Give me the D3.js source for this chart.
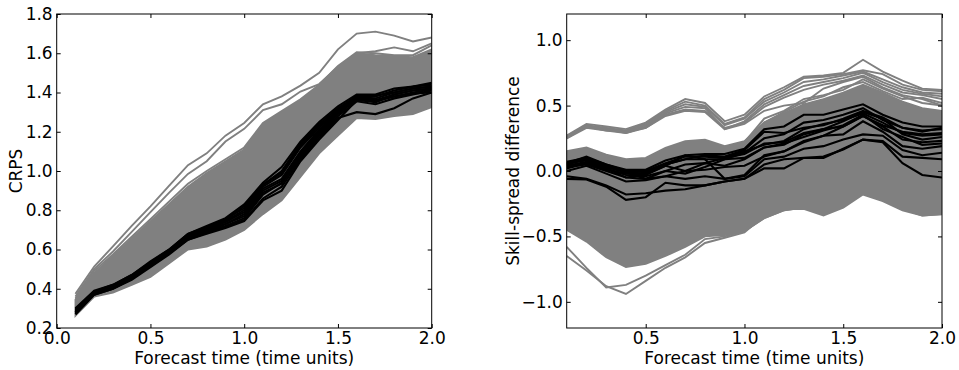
<!DOCTYPE html>
<html>
<head>
<meta charset="utf-8">
<script src="https://cdn.jsdelivr.net/npm/d3@7"></script>
<style>
  body { margin: 0; background: #fff; }
  text { font-family: "DejaVu Sans", sans-serif; }
</style>
</head>
<body>
<svg width="959" height="370"></svg>
<script>
// forecast lead times shared by both panels
const times = [0.1, 0.2, 0.3, 0.4, 0.5, 0.6, 0.7, 0.8, 0.9, 1.0, 1.1, 1.2, 1.3, 1.4, 1.5, 1.6, 1.7, 1.8, 1.9, 2.0];

// left panel: CRPS
const crpsXTicks = [0.0, 0.5, 1.0, 1.5, 2.0];
const crpsYTicks = [0.2, 0.4, 0.6, 0.8, 1.0, 1.2, 1.4, 1.6, 1.8];
// envelope of the dense bundle of grey runs
const crpsBandUpper = [0.345, 0.48, 0.567, 0.655, 0.744, 0.832, 0.92, 0.99, 1.05, 1.11, 1.24, 1.30, 1.36, 1.435, 1.53, 1.60, 1.59, 1.585, 1.58, 1.62];
const crpsBandLower = [0.262, 0.36, 0.38, 0.42, 0.46, 0.53, 0.60, 0.615, 0.65, 0.70, 0.78, 0.85, 0.97, 1.09, 1.18, 1.27, 1.265, 1.28, 1.29, 1.325];
const crpsGrayLines = [
  [0.374, 0.513, 0.616, 0.72, 0.82, 0.925, 1.03, 1.09, 1.18, 1.245, 1.34, 1.38, 1.435, 1.50, 1.62, 1.70, 1.71, 1.69, 1.66, 1.68],
  [0.36, 0.50, 0.59, 0.69, 0.79, 0.89, 0.985, 1.05, 1.15, 1.215, 1.31, 1.34, 1.405, 1.443, 1.53, 1.60, 1.61, 1.63, 1.61, 1.65],
  [0.35, 0.49, 0.575, 0.665, 0.755, 0.845, 0.935, 1.0, 1.06, 1.12, 1.245, 1.305, 1.365, 1.44, 1.535, 1.605, 1.60, 1.59, 1.59, 1.64]
];
const crpsBlackLines = [
  [0.30, 0.39, 0.42, 0.47, 0.54, 0.60, 0.68, 0.72, 0.76, 0.83, 0.94, 1.02, 1.15, 1.25, 1.33, 1.39, 1.39, 1.42, 1.43, 1.45],
  [0.29, 0.385, 0.415, 0.465, 0.53, 0.595, 0.675, 0.71, 0.75, 0.82, 0.93, 1.00, 1.14, 1.24, 1.32, 1.38, 1.38, 1.41, 1.43, 1.44],
  [0.28, 0.38, 0.41, 0.46, 0.525, 0.59, 0.665, 0.705, 0.745, 0.80, 0.92, 0.98, 1.12, 1.22, 1.31, 1.375, 1.37, 1.40, 1.42, 1.43],
  [0.275, 0.375, 0.405, 0.455, 0.52, 0.585, 0.66, 0.70, 0.74, 0.79, 0.91, 0.96, 1.10, 1.21, 1.30, 1.37, 1.36, 1.39, 1.41, 1.42],
  [0.27, 0.37, 0.40, 0.45, 0.515, 0.58, 0.655, 0.69, 0.73, 0.78, 0.90, 0.95, 1.08, 1.19, 1.29, 1.365, 1.36, 1.38, 1.40, 1.415],
  [0.285, 0.38, 0.41, 0.46, 0.52, 0.59, 0.66, 0.69, 0.72, 0.76, 0.88, 0.94, 1.09, 1.20, 1.30, 1.37, 1.35, 1.39, 1.41, 1.42],
  [0.28, 0.375, 0.405, 0.45, 0.515, 0.58, 0.65, 0.685, 0.715, 0.75, 0.86, 0.92, 1.06, 1.17, 1.27, 1.30, 1.29, 1.32, 1.37, 1.40],
  [0.295, 0.385, 0.42, 0.47, 0.535, 0.60, 0.68, 0.715, 0.755, 0.81, 0.93, 0.99, 1.13, 1.23, 1.31, 1.385, 1.385, 1.40, 1.42, 1.43],
  [0.27, 0.37, 0.40, 0.445, 0.51, 0.575, 0.65, 0.68, 0.71, 0.745, 0.85, 0.90, 1.05, 1.16, 1.26, 1.36, 1.355, 1.38, 1.395, 1.40],
  [0.28, 0.38, 0.41, 0.46, 0.53, 0.59, 0.67, 0.70, 0.73, 0.77, 0.89, 0.935, 1.07, 1.18, 1.28, 1.355, 1.34, 1.37, 1.39, 1.41]
];

// right panel: skill-spread difference
const ssXTicks = [0.5, 1.0, 1.5, 2.0];
const ssYTicks = [-1.0, -0.5, 0.0, 0.5, 1.0];
const ssBandUpper = [0.152, 0.18, 0.125, 0.09, 0.10, 0.178, 0.228, 0.24, 0.19, 0.228, 0.37, 0.44, 0.51, 0.55, 0.60, 0.66, 0.60, 0.53, 0.48, 0.46];
const ssBandLower = [-0.45, -0.54, -0.66, -0.735, -0.71, -0.65, -0.58, -0.50, -0.49, -0.46, -0.36, -0.30, -0.28, -0.33, -0.27, -0.17, -0.22, -0.29, -0.34, -0.33];
const ssGrayLines = [
  [0.27, 0.36, 0.34, 0.32, 0.37, 0.47, 0.55, 0.52, 0.38, 0.43, 0.57, 0.64, 0.72, 0.73, 0.75, 0.85, 0.76, 0.69, 0.63, 0.62],
  [0.26, 0.35, 0.33, 0.31, 0.36, 0.46, 0.53, 0.50, 0.36, 0.41, 0.55, 0.62, 0.71, 0.72, 0.74, 0.77, 0.74, 0.66, 0.62, 0.61],
  [0.255, 0.345, 0.325, 0.30, 0.35, 0.45, 0.51, 0.49, 0.35, 0.40, 0.53, 0.60, 0.68, 0.70, 0.73, 0.76, 0.70, 0.64, 0.60, 0.59],
  [0.25, 0.34, 0.32, 0.29, 0.34, 0.44, 0.49, 0.48, 0.32, 0.38, 0.51, 0.58, 0.65, 0.68, 0.71, 0.75, 0.68, 0.62, 0.59, 0.57],
  [0.26, 0.34, 0.31, 0.30, 0.33, 0.43, 0.47, 0.46, 0.33, 0.37, 0.49, 0.56, 0.62, 0.66, 0.69, 0.73, 0.66, 0.60, 0.58, 0.55],
  [0.25, 0.33, 0.31, 0.29, 0.33, 0.42, 0.46, 0.45, 0.32, 0.36, 0.46, 0.50, 0.52, 0.63, 0.68, 0.72, 0.64, 0.58, 0.55, 0.50],
  [0.14, 0.17, 0.11, 0.08, 0.09, 0.17, 0.22, 0.23, 0.18, 0.22, 0.40, 0.46, 0.55, 0.58, 0.62, 0.70, 0.63, 0.57, 0.52, 0.50],
  [0.13, 0.16, 0.10, 0.07, 0.08, 0.16, 0.21, 0.22, 0.17, 0.21, 0.37, 0.45, 0.53, 0.57, 0.64, 0.68, 0.61, 0.55, 0.56, 0.52],
  [-0.58, -0.74, -0.89, -0.87, -0.80, -0.72, -0.64, -0.52, -0.50, -0.46, -0.36, -0.30, -0.28, -0.33, -0.27, -0.17, -0.22, -0.29, -0.33, -0.32],
  [-0.65, -0.76, -0.88, -0.94, -0.84, -0.74, -0.66, -0.55, -0.51, -0.47, -0.34, -0.29, -0.29, -0.34, -0.28, -0.18, -0.23, -0.30, -0.34, -0.33]
];
const ssBlackLines = [
  [0.06, 0.11, 0.05, 0.01, 0.01, 0.08, 0.12, 0.13, 0.13, 0.17, 0.32, 0.34, 0.43, 0.43, 0.47, 0.51, 0.43, 0.37, 0.34, 0.34],
  [0.05, 0.09, 0.03, -0.01, -0.02, 0.05, 0.09, 0.09, 0.09, 0.14, 0.25, 0.28, 0.37, 0.39, 0.43, 0.48, 0.39, 0.33, 0.31, 0.32],
  [0.07, 0.10, 0.04, 0.0, 0.0, 0.06, 0.11, 0.11, 0.10, 0.15, 0.20, 0.23, 0.32, 0.36, 0.39, 0.44, 0.37, 0.29, 0.27, 0.28],
  [0.04, 0.06, 0.02, -0.05, -0.06, 0.0, 0.05, 0.06, 0.04, 0.09, 0.18, 0.20, 0.28, 0.32, 0.34, 0.42, 0.34, 0.24, 0.22, 0.23],
  [0.03, 0.05, 0.0, -0.05, -0.03, 0.04, 0.0, 0.01, 0.03, 0.04, 0.11, 0.15, 0.23, 0.27, 0.28, 0.38, 0.30, 0.19, 0.17, 0.19],
  [0.0, 0.04, -0.02, -0.08, -0.07, -0.04, -0.06, -0.04, -0.06, -0.04, 0.09, 0.11, 0.17, 0.19, 0.24, 0.28, 0.27, 0.16, 0.12, 0.14],
  [-0.04, -0.06, -0.11, -0.18, -0.17, -0.15, -0.14, -0.11, -0.08, -0.06, 0.05, 0.09, 0.10, 0.10, 0.17, 0.24, 0.22, 0.06, -0.03, -0.05],
  [-0.06, -0.065, -0.12, -0.22, -0.20, -0.09, -0.11, -0.11, -0.08, -0.06, 0.02, 0.02, 0.10, 0.11, 0.165, 0.24, 0.23, 0.11, 0.10, 0.09],
  [0.06, 0.08, 0.03, -0.01, -0.06, -0.04, 0.0, 0.06, 0.10, 0.13, 0.21, 0.22, 0.29, 0.32, 0.38, 0.45, 0.40, 0.28, 0.24, 0.26],
  [0.02, 0.06, 0.01, -0.02, -0.025, 0.04, 0.12, 0.09, -0.06, -0.03, 0.12, 0.15, 0.22, 0.27, 0.34, 0.42, 0.35, 0.30, 0.28, 0.29],
  [0.05, 0.10, 0.05, 0.0, -0.01, 0.05, 0.09, 0.12, 0.11, 0.16, 0.30, 0.29, 0.33, 0.35, 0.40, 0.46, 0.41, 0.33, 0.30, 0.33],
  [0.04, 0.07, 0.02, -0.03, -0.04, 0.0, -0.02, 0.03, 0.09, 0.10, 0.18, 0.21, 0.26, 0.31, 0.35, 0.43, 0.32, 0.26, 0.20, 0.21]
];

const svg = d3.select("svg");
const gray = "#808080";
const fmt = d3.format(".1f");
const fontSize = 17;

const drawPanel = (p, id) => {
  const xScale = d3.scaleLinear().domain(p.xDomain).range([p.left, p.right]);
  const yScale = d3.scaleLinear().domain(p.yDomain).range([p.bottom, p.top]);

  svg.append("clipPath").attr("id", id)
    .append("rect")
      .attr("x", p.left).attr("y", p.top)
      .attr("width", p.right - p.left).attr("height", p.bottom - p.top);

  const g = svg.append("g").attr("clip-path", `url(#${id})`);

  const line = d3.line()
    .x((d, i) => xScale(times[i]))
    .y(d => yScale(d));

  const area = d3.area()
    .x((d, i) => xScale(times[i]))
    .y0((d, i) => yScale(p.bandLower[i]))
    .y1(d => yScale(d));

  g.append("path")
    .datum(p.bandUpper)
    .attr("d", area)
    .attr("fill", gray)
    .attr("stroke", gray)
    .attr("stroke-width", 1.8);

  g.selectAll(".grayline").data(p.grayLines)
    .enter().append("path")
      .attr("d", line)
      .attr("fill", "none")
      .attr("stroke", gray)
      .attr("stroke-width", 1.9);

  g.selectAll(".blackline").data(p.blackLines)
    .enter().append("path")
      .attr("d", line)
      .attr("fill", "none")
      .attr("stroke", "#000")
      .attr("stroke-width", 2.1);

  // ticks point inwards on all four sides, labels only bottom/left
  svg.append("g")
    .attr("transform", `translate(0, ${p.bottom})`)
    .call(d3.axisBottom(xScale).tickValues(p.xTicks).tickFormat(fmt).tickSize(-4).tickPadding(4));
  svg.append("g")
    .attr("transform", `translate(0, ${p.top})`)
    .call(d3.axisTop(xScale).tickValues(p.xTicks).tickFormat("").tickSize(-4));
  svg.append("g")
    .attr("transform", `translate(${p.left}, 0)`)
    .call(d3.axisLeft(yScale).tickValues(p.yTicks).tickFormat(fmt).tickSize(-4).tickPadding(4));
  svg.append("g")
    .attr("transform", `translate(${p.right}, 0)`)
    .call(d3.axisRight(yScale).tickValues(p.yTicks).tickFormat("").tickSize(-4));

  svg.selectAll(".domain").remove();
  svg.selectAll(".tick line").attr("stroke", "#000");
  svg.selectAll(".tick text")
    .attr("font-family", "DejaVu Sans")
    .attr("font-size", fontSize)
    .attr("fill", "#000");

  svg.append("rect")
    .attr("x", p.left).attr("y", p.top)
    .attr("width", p.right - p.left).attr("height", p.bottom - p.top)
    .attr("fill", "none")
    .attr("stroke", "#000")
    .attr("stroke-width", 1);

  svg.append("text")
    .attr("x", (p.left + p.right) / 2)
    .attr("y", 364)
    .attr("text-anchor", "middle")
    .attr("font-size", fontSize)
    .text("Forecast time (time units)");

  svg.append("text")
    .attr("transform", `translate(${p.yTitleX}, ${(p.top + p.bottom) / 2}) rotate(-90)`)
    .attr("text-anchor", "middle")
    .attr("font-size", fontSize)
    .text(p.yTitle);
};

drawPanel({
  left: 56.7, right: 431.7, top: 14, bottom: 328,
  xDomain: [0, 2], yDomain: [0.2, 1.8],
  xTicks: crpsXTicks, yTicks: crpsYTicks,
  bandUpper: crpsBandUpper, bandLower: crpsBandLower,
  grayLines: crpsGrayLines, blackLines: crpsBlackLines,
  yTitle: "CRPS", yTitleX: 21.5
}, "clipL");

drawPanel({
  left: 566.7, right: 942, top: 14, bottom: 328,
  xDomain: [0.1, 2], yDomain: [-1.2, 1.2],
  xTicks: ssXTicks, yTicks: ssYTicks,
  bandUpper: ssBandUpper, bandLower: ssBandLower,
  grayLines: ssGrayLines, blackLines: ssBlackLines,
  yTitle: "Skill-spread difference", yTitleX: 518.5
}, "clipR");
</script>
</body>
</html>
